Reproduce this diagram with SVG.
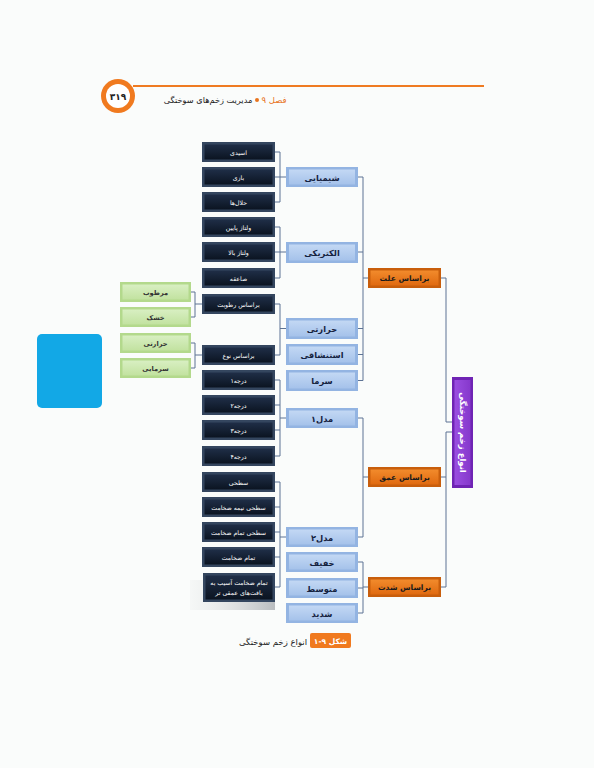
<svg xmlns="http://www.w3.org/2000/svg" width="594" height="768" viewBox="0 0 594 768">
<defs>
<linearGradient id="gDark" x1="0" y1="0" x2="0" y2="1"><stop offset="0" stop-color="#1f2e47"/><stop offset="1" stop-color="#0b1421"/></linearGradient>
<linearGradient id="gBlue" x1="0" y1="0" x2="0" y2="1"><stop offset="0" stop-color="#c3d8f4"/><stop offset="1" stop-color="#a5c2ea"/></linearGradient>
<linearGradient id="gOrange" x1="0" y1="0" x2="0" y2="1"><stop offset="0" stop-color="#f28b2c"/><stop offset="1" stop-color="#e06a10"/></linearGradient>
<linearGradient id="gGreen" x1="0" y1="0" x2="0" y2="1"><stop offset="0" stop-color="#d8efc2"/><stop offset="1" stop-color="#c2e2a0"/></linearGradient>
<linearGradient id="gPurple" x1="0" y1="0" x2="1" y2="0"><stop offset="0" stop-color="#9a4ee0"/><stop offset="1" stop-color="#8638cc"/></linearGradient>
<linearGradient id="gShadow" x1="0" y1="0" x2="1" y2="0"><stop offset="0" stop-color="#d8dadc" stop-opacity="0.2"/><stop offset="1" stop-color="#9ea2a6"/></linearGradient>
</defs>
<style>
text{font-family:"DejaVu Sans","Noto Sans",sans-serif;text-anchor:middle;direction:rtl}
.dk{fill:#34465f}.dki{fill:url(#gDark)}
.bl{fill:#93b4e2}.bli{fill:url(#gBlue)}
.or{fill:#c85e0c}.ori{fill:url(#gOrange)}
.gr{fill:#b3d98c}.gri{fill:url(#gGreen)}
.pu{fill:#6f24b4}.pui{fill:url(#gPurple)}
.td{fill:#ffffff;font-size:6.2px}
.tb{fill:#15223f;font-size:8.3px;font-weight:bold}
.to{fill:#1a1a1a;font-size:7.6px;font-weight:bold}
.tg{fill:#333333;font-size:6.6px;font-weight:bold}
.conn path{fill:none;stroke:#5d7394;stroke-width:1}
</style>
<rect width="594" height="768" fill="#fafcfb"/>

<g id="header">
<path d="M133,86 H484" stroke="#ef7b22" stroke-width="2"/>
<circle cx="118" cy="96" r="17" fill="#f07a1f"/>
<circle cx="118" cy="96" r="12" fill="#ffffff"/>
<text x="118" y="99.5" style="font-size:9px;font-weight:bold;fill:#222">۳۱۹</text>
<text x="274" y="103" style="font-size:8.5px;fill:#e8741e">فصل ۹</text>
<circle cx="257" cy="100" r="2" fill="#e8741e"/>
<text x="208" y="103" style="font-size:8.2px;fill:#222">مدیریت زخم‌های سوختگی</text>
</g>

<rect id="blue-panel" x="37" y="334" width="65" height="74" rx="5" fill="#12a8e6"/>

<g class="conn" id="connectors">
<path d="M275,152 H280 M275,177 H286 M275,202 H280 M280,152 V202"/>
<path d="M275,227 H280 M275,252 H286 M275,278 H280 M280,227 V278"/>
<path d="M275,304 H280 M275,355 H280 M280,304 V355 M280,328.5 H286"/>
<path d="M275,380 H280 M275,405 H280 M275,430 H280 M275,456 H280 M280,380 V456 M280,418 H286"/>
<path d="M275,482 H280 M275,507 H280 M275,532 H280 M275,557 H280 M275,587 H280 M280,482 V587 M280,537 H286"/>
<path d="M191,292 H195 M191,317 H195 M195,292 V317 M195,304 H203"/>
<path d="M191,343 H195 M191,368 H195 M195,343 V368 M195,355 H203"/>
<path d="M358,177 H363 M358,252 H363 M358,328.5 H363 M358,354.5 H363 M358,380.5 H363 M363,177 V380.5 M363,278 H368"/>
<path d="M358,418 H363 M358,537 H363 M363,418 V537 M363,477 H368"/>
<path d="M358,562 H363 M358,588 H363 M358,613 H363 M363,562 V613 M363,587 H368"/>
<path d="M441,278 H446 V422 H452"/>
<path d="M452,432 H446 V587 H441 M441,477 H446"/>
</g>

<rect x="190" y="580" width="85" height="30" fill="url(#gShadow)" opacity="0.7"/>

<g id="n-asidi"><rect class="dk" x="202" y="142" width="73" height="20"/><rect class="dki" x="204.5" y="144.5" width="68" height="15"/><text class="td" x="238.5" y="154.5">اسیدی</text></g>
<g id="n-bazi"><rect class="dk" x="202" y="167" width="73" height="20"/><rect class="dki" x="204.5" y="169.5" width="68" height="15"/><text class="td" x="238.5" y="179.5">بازی</text></g>
<g id="n-halal"><rect class="dk" x="202" y="192" width="73" height="20"/><rect class="dki" x="204.5" y="194.5" width="68" height="15"/><text class="td" x="238.5" y="204.5">حلال‌ها</text></g>
<g id="n-vpain"><rect class="dk" x="202" y="217" width="73" height="20"/><rect class="dki" x="204.5" y="219.5" width="68" height="15"/><text class="td" x="238.5" y="229.5">ولتاژ پایین</text></g>
<g id="n-vbala"><rect class="dk" x="202" y="242" width="73" height="20"/><rect class="dki" x="204.5" y="244.5" width="68" height="15"/><text class="td" x="238.5" y="254.5">ولتاژ بالا</text></g>
<g id="n-saeghe"><rect class="dk" x="202" y="268" width="73" height="20"/><rect class="dki" x="204.5" y="270.5" width="68" height="15"/><text class="td" x="238.5" y="280.5">صاعقه</text></g>
<g id="n-rotubat"><rect class="dk" x="202" y="294" width="73" height="20"/><rect class="dki" x="204.5" y="296.5" width="68" height="15"/><text class="td" x="238.5" y="306.5">براساس رطوبت</text></g>
<g id="n-noe"><rect class="dk" x="202" y="345" width="73" height="20"/><rect class="dki" x="204.5" y="347.5" width="68" height="15"/><text class="td" x="238.5" y="357.5">براساس نوع</text></g>
<g id="n-d1"><rect class="dk" x="202" y="370" width="73" height="20"/><rect class="dki" x="204.5" y="372.5" width="68" height="15"/><text class="td" x="238.5" y="382.5">درجه۱</text></g>
<g id="n-d2"><rect class="dk" x="202" y="395" width="73" height="20"/><rect class="dki" x="204.5" y="397.5" width="68" height="15"/><text class="td" x="238.5" y="407.5">درجه۲</text></g>
<g id="n-d3"><rect class="dk" x="202" y="420" width="73" height="20"/><rect class="dki" x="204.5" y="422.5" width="68" height="15"/><text class="td" x="238.5" y="432.5">درجه۳</text></g>
<g id="n-d4"><rect class="dk" x="202" y="446" width="73" height="20"/><rect class="dki" x="204.5" y="448.5" width="68" height="15"/><text class="td" x="238.5" y="458.5">درجه۴</text></g>
<g id="n-sathi"><rect class="dk" x="202" y="472" width="73" height="20"/><rect class="dki" x="204.5" y="474.5" width="68" height="15"/><text class="td" x="238.5" y="484.5">سطحی</text></g>
<g id="n-nime"><rect class="dk" x="202" y="497" width="73" height="20"/><rect class="dki" x="204.5" y="499.5" width="68" height="15"/><text class="td" x="238.5" y="509.5">سطحی نیمه ضخامت</text></g>
<g id="n-stamam"><rect class="dk" x="202" y="522" width="73" height="20"/><rect class="dki" x="204.5" y="524.5" width="68" height="15"/><text class="td" x="238.5" y="534.5">سطحی تمام ضخامت</text></g>
<g id="n-tamam"><rect class="dk" x="202" y="547" width="73" height="20"/><rect class="dki" x="204.5" y="549.5" width="68" height="15"/><text class="td" x="238.5" y="559.5">تمام ضخامت</text></g>
<g id="n-amighi"><rect class="dk" x="203" y="573" width="72" height="29"/><rect class="dki" x="205.5" y="575.5" width="67" height="24"/><text class="td" x="239" y="584.5">تمام ضخامت آسیب به</text><text class="td" x="239" y="594.5">بافت‌های عمقی تر</text></g>

<g id="n-martub"><rect class="gr" x="120" y="282" width="71" height="20"/><rect class="gri" x="122.5" y="284.5" width="66" height="15"/><text class="tg" x="155.5" y="294.5">مرطوب</text></g>
<g id="n-khoshk"><rect class="gr" x="120" y="307" width="71" height="20"/><rect class="gri" x="122.5" y="309.5" width="66" height="15"/><text class="tg" x="155.5" y="319.5">خشک</text></g>
<g id="n-harareti"><rect class="gr" x="120" y="333" width="71" height="20"/><rect class="gri" x="122.5" y="335.5" width="66" height="15"/><text class="tg" x="155.5" y="345.5">حرارتی</text></g>
<g id="n-sarmaei"><rect class="gr" x="120" y="358" width="71" height="20"/><rect class="gri" x="122.5" y="360.5" width="66" height="15"/><text class="tg" x="155.5" y="370.5">سرمایی</text></g>

<g id="n-shimiaei"><rect class="bl" x="286" y="167" width="72" height="20"/><rect class="bli" x="289" y="169.5" width="66" height="15"/><text class="tb" x="322" y="180.5">شیمیایی</text></g>
<g id="n-electric"><rect class="bl" x="286" y="242" width="72" height="21"/><rect class="bli" x="289" y="244.5" width="66" height="16"/><text class="tb" x="322" y="256">الکتریکی</text></g>
<g id="n-hararati"><rect class="bl" x="286" y="318" width="72" height="21"/><rect class="bli" x="289" y="320.5" width="66" height="16"/><text class="tb" x="322" y="332">حرارتی</text></g>
<g id="n-estenshaghi"><rect class="bl" x="286" y="344" width="72" height="21"/><rect class="bli" x="289" y="346.5" width="66" height="16"/><text class="tb" x="322" y="358">استنشاقی</text></g>
<g id="n-sarma"><rect class="bl" x="286" y="370" width="72" height="21"/><rect class="bli" x="289" y="372.5" width="66" height="16"/><text class="tb" x="322" y="384">سرما</text></g>
<g id="n-model1"><rect class="bl" x="286" y="408" width="72" height="20"/><rect class="bli" x="289" y="410.5" width="66" height="15"/><text class="tb" x="322" y="421.5">مدل۱</text></g>
<g id="n-model2"><rect class="bl" x="286" y="527" width="72" height="20"/><rect class="bli" x="289" y="529.5" width="66" height="15"/><text class="tb" x="322" y="540.5">مدل۲</text></g>
<g id="n-khafif"><rect class="bl" x="286" y="552" width="72" height="20"/><rect class="bli" x="289" y="554.5" width="66" height="15"/><text class="tb" x="322" y="565.5">خفیف</text></g>
<g id="n-motevaset"><rect class="bl" x="286" y="578" width="72" height="20"/><rect class="bli" x="289" y="580.5" width="66" height="15"/><text class="tb" x="322" y="591.5">متوسط</text></g>
<g id="n-shadid"><rect class="bl" x="286" y="603" width="72" height="20"/><rect class="bli" x="289" y="605.5" width="66" height="15"/><text class="tb" x="322" y="616.5">شدید</text></g>

<g id="n-ellat"><rect class="or" x="368" y="268" width="73" height="20"/><rect class="ori" x="370.5" y="270.5" width="68" height="15"/><text class="to" x="404.5" y="281">براساس علت</text></g>
<g id="n-omgh"><rect class="or" x="368" y="467" width="73" height="20"/><rect class="ori" x="370.5" y="469.5" width="68" height="15"/><text class="to" x="404.5" y="480">براساس عمق</text></g>
<g id="n-shedat"><rect class="or" x="368" y="577" width="73" height="20"/><rect class="ori" x="370.5" y="579.5" width="68" height="15"/><text class="to" x="404.5" y="590">براساس شدت</text></g>

<g id="n-root"><rect class="pu" x="452" y="377" width="21" height="111"/><rect class="pui" x="454.5" y="380" width="16" height="105"/><text x="462.5" y="432.5" transform="rotate(90 462.5 432.5)" dy="3" style="fill:#fff;font-size:8.5px;font-weight:bold">انواع زخم سوختگی</text></g>

<g id="caption">
<rect x="310" y="633" width="41" height="15" rx="2" fill="#f07a1f"/>
<text x="330.5" y="643.5" style="fill:#fff;font-size:7.5px;font-weight:bold">شکل ۹-۱</text>
<text x="273" y="644.5" style="fill:#222;font-size:8.5px">انواع زخم سوختگی</text>
</g>
</svg>
